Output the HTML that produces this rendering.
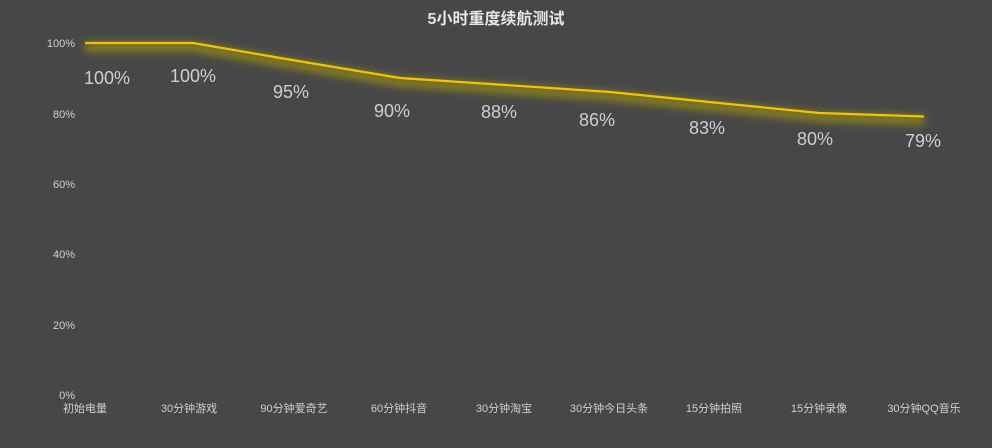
<!DOCTYPE html>
<html><head><meta charset="utf-8"><style>
html,body{margin:0;padding:0;background:#474747;}
svg{display:block;font-family:"Liberation Sans","Noto Sans CJK SC",sans-serif;}
</style></head><body>
<svg width="992" height="448" viewBox="0 0 992 448">
<defs><filter id="g" x="-10%" y="-50%" width="120%" height="200%"><feGaussianBlur stdDeviation="4"/></filter></defs>
<rect width="992" height="448" fill="#474747"/>
<text x="496" y="24" text-anchor="middle" font-size="16" font-weight="bold" fill="#e6e6e6">5小时重度续航测试</text>
<g font-size="11" fill="#d0d0d0" text-anchor="end">
<text x="75" y="47">100%</text><text x="75" y="118">80%</text><text x="75" y="188">60%</text>
<text x="75" y="258">40%</text><text x="75" y="329">20%</text><text x="75" y="399">0%</text>
</g>
<polyline points="85,47 193,47 295,64.5 400,82 505,89 610,96 714,106.5 819,117 924,120.5" fill="none" stroke="#b8a800" stroke-opacity="0.55" stroke-width="10" filter="url(#g)"/>
<polyline points="85,43 193,43 295,60.5 400,78 505,85 610,92 714,102.5 819,113 924,116.5" fill="none" stroke="#f5c400" stroke-width="2.2"/>
<g font-size="18" fill="#cfcfcf" text-anchor="middle">
<text x="107" y="84">100%</text><text x="193" y="82">100%</text><text x="291" y="98">95%</text>
<text x="392" y="117">90%</text><text x="499" y="118">88%</text><text x="597" y="126">86%</text>
<text x="707" y="134">83%</text><text x="815" y="145">80%</text><text x="923" y="147">79%</text>
</g>
<g font-size="11" fill="#d0d0d0" text-anchor="middle">
<text x="85" y="412">初始电量</text><text x="189" y="412">30分钟游戏</text><text x="294" y="412">90分钟爱奇艺</text>
<text x="399" y="412">60分钟抖音</text><text x="504" y="412">30分钟淘宝</text><text x="609" y="412">30分钟今日头条</text>
<text x="714" y="412">15分钟拍照</text><text x="819" y="412">15分钟录像</text><text x="924" y="412">30分钟QQ音乐</text>
</g>
</svg>
</body></html>
